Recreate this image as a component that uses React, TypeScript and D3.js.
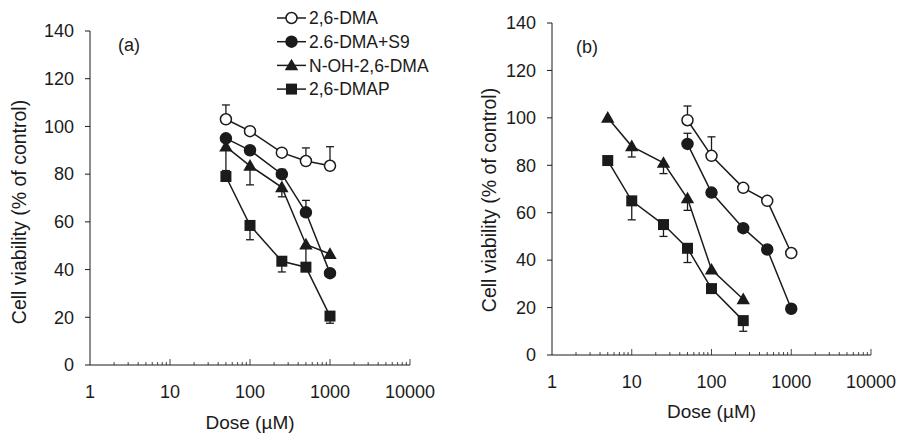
import React from 'react';
import * as d3 from 'd3';

// panel (a): all compounds tested at the same doses
const dosesA = [50, 100, 250, 500, 1000];
const dmaA = [103, 98, 89, 85.5, 83.5];
const dmaAErr = [6, 0, 1, 5.5, 8];
const s9A = [95, 90, 80, 64, 38.5];
const s9AErr = [0, 1.5, 2, 5, 0];
const nohA = [91.5, 83.5, 74.5, 50.5, 46.5];
const nohAErr = [10, 8, 4, 8, 0];
const dmapA = [79, 58.5, 43.5, 41, 20.5];
const dmapAErr = [1.5, 6, 4.5, 0, 3];

// panel (b)
const dosesBHigh = [50, 100, 250, 500, 1000];
const dosesBLow = [5, 10, 25, 50, 100, 250];
const dmaB = [99, 84, 70.5, 65, 43];
const dmaBErr = [6, 8, 0, 0, 0];
const s9B = [89, 68.5, 53.5, 44.5, 19.5];
const s9BErr = [4.5, 0, 0, 0, 0];
const nohB = [100, 88, 81, 66, 36, 23.5];
const nohBErr = [0, 4.5, 4.5, 5, 0, 0];
const dmapB = [82, 65, 55, 45, 28, 14.5];
const dmapBErr = [0, 8, 5, 6, 2, 4.5];

const yTicks = [0, 20, 40, 60, 80, 100, 120, 140];
const xTickLabels = [1, 10, 100, 1000, 10000];
const legendNames = ['2,6-DMA', '2.6-DMA+S9', 'N-OH-2,6-DMA', '2,6-DMAP'];

const INK = '#1b1b1b';
const FONT = '"Liberation Sans", Arial, sans-serif';

type Kind = 'open' | 'dot' | 'tri' | 'sq';

const Marker = ({ kind, x, y }: { kind: Kind; x: number; y: number }) => {
  if (kind === 'open' || kind === 'dot') {
    return (
      <circle cx={x} cy={y} r={5.5} fill={kind === 'open' ? '#fff' : INK}
        stroke={INK} strokeWidth={1.5} />
    );
  }
  const path = d3.symbol()
    .type(kind === 'tri' ? d3.symbolTriangle : d3.symbolSquare)
    .size(kind === 'tri' ? 78 : 121)();
  return <path d={path || ''} transform={`translate(${x},${y + (kind === 'tri' ? 1 : 0)})`} fill={INK} />;
};

type Series = { kind: Kind; doses: number[]; values: number[]; err: number[]; up: boolean };

const Panel = ({ series, xRange, yRange, label, labelPos, titleX, titleY, doseY, tickY }: {
  series: Series[]; xRange: [number, number]; yRange: [number, number];
  label: string; labelPos: [number, number]; titleX: number; titleY: number; doseY: number; tickY: number;
}) => {
  const x = d3.scaleLog().domain([1, 10000]).range(xRange);
  const y = d3.scaleLinear().domain([0, 140]).range(yRange);
  const x0 = xRange[0];
  const y0 = yRange[0];

  const minor: number[] = [];
  for (let p = 1; p < 10000; p *= 10) {
    for (let m = 2; m <= 9; m++) minor.push(m * p);
  }

  const line = d3.line<[number, number]>().x(d => x(d[0])).y(d => y(d[1]));

  return (
    <g>
      {/* axes */}
      <line x1={x0} x2={x0} y1={y(140)} y2={y0} stroke={INK} strokeWidth={1} />
      <line x1={x0} x2={xRange[1]} y1={y0} y2={y0} stroke={INK} strokeWidth={1} />
      {yTicks.map(t => (
        <g key={t}>
          <line x1={x0 - 5} x2={x0} y1={y(t)} y2={y(t)} stroke={INK} />
          <text x={x0 - 16} y={y(t)} dy="0.35em" textAnchor="end" fontSize={18} fill={INK}>{t}</text>
        </g>
      ))}
      {minor.map(t => (
        <line key={t} x1={x(t)} x2={x(t)} y1={y0} y2={y0 - 3} stroke={INK} strokeWidth={0.8} />
      ))}
      {xTickLabels.slice(1).map(t => (
        <line key={t} x1={x(t)} x2={x(t)} y1={y0} y2={y0 - 6} stroke={INK} strokeWidth={0.8} />
      ))}
      {xTickLabels.map(t => (
        <text key={t} x={x(t)} y={tickY} dy="0.35em" textAnchor="middle" fontSize={18} fill={INK}>{t}</text>
      ))}
      <text x={(x(10) + x(1000)) / 2} y={doseY} dy="0.35em" textAnchor="middle" fontSize={19} fill={INK}>Dose (µM)</text>
      <text transform={`translate(${titleX},${titleY}) rotate(-90)`} dy="0.35em" textAnchor="middle" fontSize={19.5} fill={INK}>
        Cell viability (% of control)
      </text>
      <text x={labelPos[0]} y={labelPos[1]} dy="0.35em" fontSize={18} fill={INK}>{label}</text>

      {/* error bars */}
      {series.map((s, si) => s.values.map((v, i) => {
        const e = s.err[i];
        if (!e) return null;
        const end = y(s.up ? v + e : v - e);
        const cx = x(s.doses[i]);
        return (
          <g key={`e${si}-${i}`} stroke={INK} strokeWidth={1.3}>
            <line x1={cx} x2={cx} y1={y(v)} y2={end} />
            <line x1={cx - 4} x2={cx + 4} y1={end} y2={end} />
          </g>
        );
      }))}
      {/* lines */}
      {series.map((s, si) => (
        <path key={`l${si}`} d={line(s.doses.map((d, i) => [d, s.values[i]] as [number, number])) || ''}
          fill="none" stroke={INK} strokeWidth={1.5} />
      ))}
      {/* markers */}
      {series.map((s, si) => s.values.map((v, i) => (
        <Marker key={`m${si}-${i}`} kind={s.kind} x={x(s.doses[i])} y={y(v)} />
      )))}
    </g>
  );
};

const Legend = () => {
  const kinds: Kind[] = ['open', 'dot', 'tri', 'sq'];
  return (
    <g>
      {legendNames.map((name, i) => {
        const ry = 18 + i * 23.7;
        return (
          <g key={name}>
            <line x1={277} x2={306} y1={ry} y2={ry} stroke={INK} strokeWidth={1.5} />
            <Marker kind={kinds[i]} x={291.5} y={ry} />
            <text x={309} y={ry} dy="0.35em" fontSize={17.5} fill={INK}>{name}</text>
          </g>
        );
      })}
    </g>
  );
};

export default function App() {
  const seriesA: Series[] = [
    { kind: 'open', doses: dosesA, values: dmaA, err: dmaAErr, up: true },
    { kind: 'dot', doses: dosesA, values: s9A, err: s9AErr, up: true },
    { kind: 'tri', doses: dosesA, values: nohA, err: nohAErr, up: false },
    { kind: 'sq', doses: dosesA, values: dmapA, err: dmapAErr, up: false },
  ];
  const seriesB: Series[] = [
    { kind: 'open', doses: dosesBHigh, values: dmaB, err: dmaBErr, up: true },
    { kind: 'dot', doses: dosesBHigh, values: s9B, err: s9BErr, up: true },
    { kind: 'tri', doses: dosesBLow, values: nohB, err: nohBErr, up: false },
    { kind: 'sq', doses: dosesBLow, values: dmapB, err: dmapBErr, up: false },
  ];

  return (
    <svg width={898} height={439} style={{ position: 'absolute', left: 0, top: 0, background: '#fff' }}
      fontFamily={FONT}>
      <Panel series={seriesA} xRange={[90, 410]} yRange={[365, 31]} label="(a)" labelPos={[118, 45]}
        titleX={19} titleY={212} doseY={422} tickY={392} />
      <Panel series={seriesB} xRange={[552, 871]} yRange={[355, 23]} label="(b)" labelPos={[576, 47]}
        titleX={489} titleY={200} doseY={411} tickY={382} />
      <Legend />
    </svg>
  );
}
